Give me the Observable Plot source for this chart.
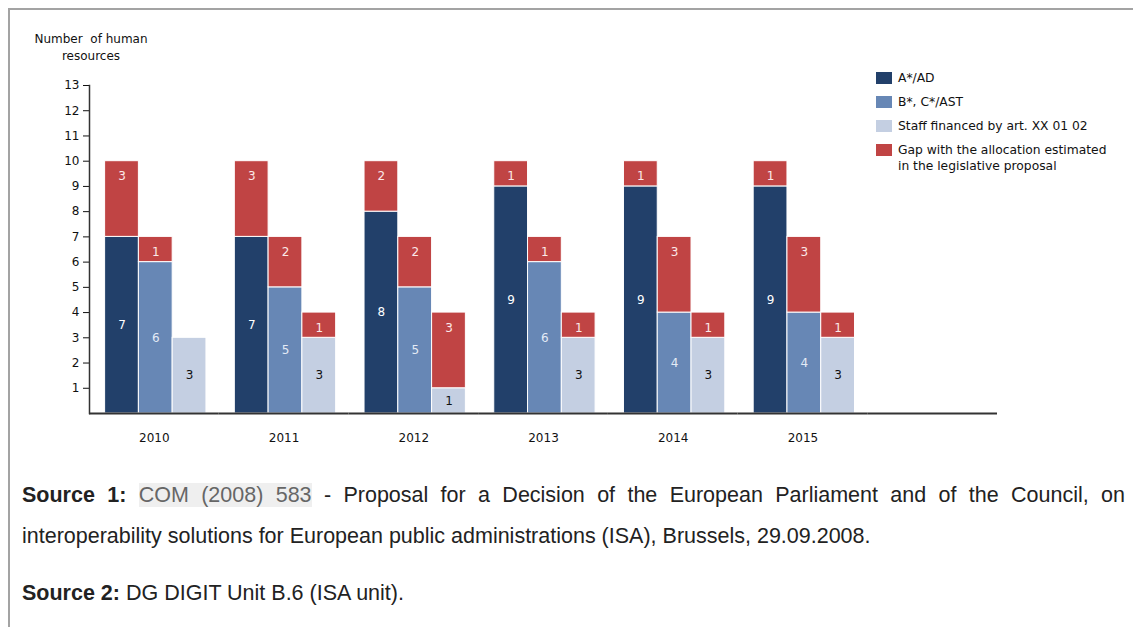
<!DOCTYPE html>
<html><head><meta charset="utf-8">
<script src="https://cdn.jsdelivr.net/npm/d3@7"></script>
<script src="https://cdn.jsdelivr.net/npm/@observablehq/plot@0.6"></script>
<style>
body{margin:0;background:#fff;font-family:"Liberation Sans",Arial,sans-serif;}
#page{position:relative;width:1133px;height:627px;overflow:hidden;background:#fff;}
#frame{position:absolute;left:8px;top:8px;right:-10px;bottom:-10px;border-top:2px solid #a3a3a3;border-left:2px solid #a3a3a3;}
#chart{position:absolute;left:0;top:0;}
#ytitle{position:absolute;left:30px;top:31px;width:122px;text-align:center;font-family:"DejaVu Sans",sans-serif;font-size:12px;line-height:17px;color:#111;}
#legend{position:absolute;left:876px;top:70px;font-family:"DejaVu Sans",sans-serif;font-size:12.3px;color:#111;}
.li{display:flex;align-items:flex-start;margin-bottom:8px;line-height:16px;}
.sw{width:16px;height:12px;margin-top:2px;margin-right:6px;flex:none;}
#caption{position:absolute;left:22px;top:475px;width:1103px;font-size:21.5px;color:#222;}
#caption p{margin:0;text-align:justify;line-height:41px;}
#caption p+p{margin-top:16px;}
.ref{background:#efefef;color:#666;}
</style></head>
<body>
<div id="page">
  <div id="frame"></div>
  <div id="chart"></div>
  <div id="ytitle"></div>
  <div id="legend"></div>
  <div id="caption"></div>
</div>
<script>
// ---------- data ----------
const years = ["2010", "2011", "2012", "2013", "2014", "2015"];
const extraSlot = [""]; // empty band at the right of the axis
const categories = ["A*/AD", "B*, C*/AST", "Staff financed by art. XX 01 02"];
const gapSeries = "Gap with the allocation estimated in the legislative proposal";
const adValues = [7, 7, 8, 9, 9, 9];
const adGap = [3, 3, 2, 1, 1, 1];
const astValues = [6, 5, 5, 6, 4, 4];
const astGap = [1, 2, 2, 1, 3, 3];
const staffValues = [3, 3, 1, 3, 3, 3];
const staffGap = [0, 1, 3, 1, 1, 1];
const yTicks = [1, 2, 3, 4, 5, 6, 7, 8, 9, 10, 11, 12, 13];
const yTitle = ["Number&nbsp; of human", "resources"];
const legendLines = ["A*/AD", "B*, C*/AST", "Staff financed by art. XX 01 02", "Gap with the allocation estimated<br>in the legislative proposal"];

// ---------- build tables ----------
const baseByCat = [adValues, astValues, staffValues];
const gapByCat = [adGap, astGap, staffGap];
const rows = [];
const labels = [];
years.forEach((year, i) => {
  categories.forEach((cat, j) => {
    const base = baseByCat[j][i], gap = gapByCat[j][i];
    rows.push({year, cat, series: cat, value: base});
    rows.push({year, cat, series: gapSeries, value: gap});
    labels.push({year, cat, kind: j, y: base / 2, text: base});
    if (gap > 0) labels.push({year, cat, kind: 3, y: base + gap - 0.6, text: gap});
  });
});
const colors = ["#22406a", "#6787b5", "#c4cfe2", "#c04444"];
const labelColors = ["#ffffff", "#e4ebf6", "#111111", "#fbe9e9"];
const seriesDomain = [...categories, gapSeries];
const facetRows = [...years, ...extraSlot].map(year => ({year}));

const chart = Plot.plot({
  width: 1133,
  height: 460,
  marginLeft: 89,
  marginRight: 136,
  marginTop: 85,
  marginBottom: 47,
  style: {fontFamily: "'DejaVu Sans', sans-serif", fontSize: "12px", color: "#111", background: "transparent"},
  fx: {domain: [...years, ...extraSlot], padding: 0, round: false, label: null, tickSize: 0, tickPadding: 20},
  x: {domain: categories, paddingInner: 0, paddingOuter: 0.42, align: 0.55, round: false, axis: null},
  y: {domain: [0, 13], ticks: yTicks, tickSize: 6, label: null, tickPadding: 4},
  color: {domain: seriesDomain, range: colors},
  marks: [
    Plot.barY(rows, {fx: "year", x: "cat", y: "value", fill: "series", stroke: "#fff", strokeWidth: 1}),
    Plot.text(labels, {fx: "year", x: "cat", y: "y", text: "text", fill: d => labelColors[d.kind], fontSize: 12}),
    Plot.ruleY(facetRows, {fx: "year", y: () => 0, stroke: "#333", strokeWidth: 2}),
    Plot.frame({anchor: "left", facetAnchor: "left", stroke: "#333", strokeWidth: 1.5})
  ]
});
document.getElementById("chart").appendChild(chart);

document.getElementById("ytitle").innerHTML = yTitle.join("<br>");
document.getElementById("legend").innerHTML = legendLines.map((t, i) =>
  `<div class="li"><span class="sw" style="background:${colors[i]}"></span><span>${t}</span></div>`).join("");
document.getElementById("caption").innerHTML =
  `<p><b>Source 1:</b> <span class="ref">COM (2008) 583</span> - Proposal for a Decision of the European Parliament and of the Council, on interoperability solutions for European public administrations (ISA), Brussels, 29.09.2008.</p>` +
  `<p><b>Source 2:</b> DG DIGIT Unit B.6 (ISA unit).</p>`;
</script>
</body></html>
